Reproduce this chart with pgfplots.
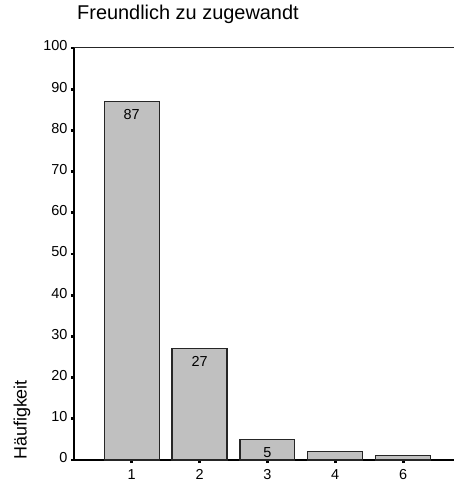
\documentclass[border=0pt]{standalone}
\usepackage{fontspec}
\setmainfont{Liberation Sans}
\usepackage{pgfplots}
\pgfplotsset{compat=1.18}
\definecolor{barfill}{HTML}{C0C0C0}
\definecolor{bardraw}{HTML}{262626}

\begin{document}
\begin{tikzpicture}
\begin{axis}[
    scale only axis,
    width=380bp, height=412bp,
    xmin=-0.85, xmax=4.75,
    ymin=0, ymax=100,
    axis x line=bottom, axis y line=left,
    axis line style={-, line width=1.3bp, black},
    xtick=data,
    xticklabels={1,2,3,4,6},
    ytick={0,10,...,100},
    tick align=outside,
    major tick length=3bp,
    tick style={line width=2.8bp, black},
    /pgf/number format/assume math mode=true,
    tick label style={font=\fontsize{14.5}{16}\selectfont},
    yticklabel style={yshift=2bp},
    xticklabel style={yshift=-3bp},
    title={Freundlich zu zugewandt},
    title style={at={(rel axis cs:0.0079,1.0541)}, anchor=base west,
                 inner sep=0pt, font=\fontsize{20}{22}\selectfont},
    ylabel={Häufigkeit},
    ylabel style={at={(rel axis cs:-0.1245,0)}, anchor=base west,
                  inner sep=0pt, font=\fontsize{18}{20}\selectfont},
    clip=false,
]
% bars
\addplot[ybar, bar width=0.81, bar shift=0pt, fill=barfill, draw=bardraw, line width=1.2bp]
    coordinates {(0,87)(1,27)(2,5)(3,2)(4,1)};
% value labels inside the three taller bars
\addplot[ybar, bar width=0.81, bar shift=0pt, draw=none, fill=none,
    nodes near coords,
    every node near coord/.append style={anchor=center, yshift=-13bp,
        font=\fontsize{14.5}{16}\selectfont, black}]
    coordinates {(0,87)(1,27)(2,5)};
% top frame line
\draw[line width=1bp, black!85] (rel axis cs:0,1) -- (rel axis cs:1,1);
\coordinate (bl) at (rel axis cs:0,0);
\coordinate (tr) at (rel axis cs:1,1);
\end{axis}
\pgfresetboundingbox
\path ([shift={(-74bp,-23bp)}]bl) rectangle ([shift={(0bp,48bp)}]tr);
\end{tikzpicture}
\end{document}
